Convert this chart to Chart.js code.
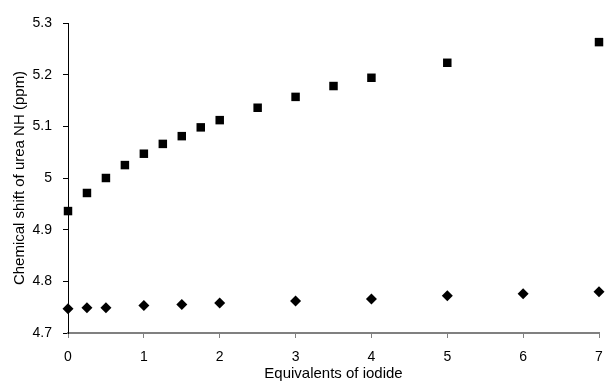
<!DOCTYPE html>
<html>
<head>
<meta charset="utf-8">
<script src="https://cdn.jsdelivr.net/npm/chart.js@4"></script>
<style>
  html, body { margin: 0; padding: 0; background: #fff; }
  #wrap { width: 605px; height: 383px; position: relative; }
</style>
</head>
<body>
<div id="wrap"><canvas id="shiftChart"></canvas></div>
<script>
// Equivalents of iodide added
const equivSquares = [0, 0.25, 0.5, 0.75, 1, 1.25, 1.5, 1.75, 2, 2.5, 3, 3.5, 4, 5, 7];
const shiftSquares = [4.936, 4.971, 5.000, 5.025, 5.047, 5.066, 5.081, 5.098, 5.112, 5.136, 5.157, 5.178, 5.194, 5.223, 5.263];

const equivDiamonds = [0, 0.25, 0.5, 1, 1.5, 2, 3, 4, 5, 6, 7];
const shiftDiamonds = [4.747, 4.749, 4.749, 4.753, 4.755, 4.758, 4.762, 4.766, 4.772, 4.776, 4.780];

const xTicks = [0, 1, 2, 3, 4, 5, 6, 7];
const yTicks = [4.7, 4.8, 4.9, 5, 5.1, 5.2, 5.3];

const toPoints = (xs, ys) => xs.map((x, i) => ({ x: x, y: ys[i] }));

const tickFont = { family: 'Liberation Sans, Arial, sans-serif', size: 14 };
const titleFont = { family: 'Liberation Sans, Arial, sans-serif', size: 15 };

const ctx = document.getElementById('shiftChart').getContext('2d');
const shiftChart = new Chart(ctx, {
    type: 'scatter',
    data: {
        datasets: [{
            data: toPoints(equivSquares, shiftSquares),
            pointStyle: 'rect',
            pointRadius: 6,
            backgroundColor: '#000',
            borderColor: '#000',
            borderWidth: 0,
            clip: false
        }, {
            data: toPoints(equivDiamonds, shiftDiamonds),
            pointStyle: 'rectRot',
            pointRadius: 5.5,
            backgroundColor: '#000',
            borderColor: '#000',
            borderWidth: 0,
            clip: false
        }]
    },
    options: {
        responsive: true,
        maintainAspectRatio: false,
        animation: false,
        layout: { padding: { top: 23, right: 5, left: 0, bottom: 0 } },
        plugins: { legend: { display: false }, tooltip: { enabled: false } },
        scales: {
            x: {
                type: 'linear',
                min: 0,
                max: 7,
                afterBuildTicks: axis => { axis.ticks = xTicks.map(v => ({ value: v })); },
                afterFit: axis => { axis.height = 50; axis.paddingLeft = 0; axis.paddingRight = 0; },
                border: { color: '#808080', width: 2 },
                grid: { drawOnChartArea: false, drawTicks: true, tickLength: 5, color: '#808080' },
                ticks: { color: '#000', font: tickFont, padding: 11, maxRotation: 0 },
                title: { display: true, text: 'Equivalents of iodide', color: '#000', font: titleFont, padding: { top: 0, bottom: 0 } }
            },
            y: {
                type: 'linear',
                min: 4.7,
                max: 5.3,
                afterBuildTicks: axis => { axis.ticks = yTicks.map(v => ({ value: v })); },
                afterFit: axis => { axis.width = 68; },
                border: { color: '#000', width: 1 },
                grid: { drawOnChartArea: false, drawTicks: true, tickLength: 5, color: '#000' },
                ticks: { color: '#000', font: tickFont, padding: 11, callback: v => String(Math.round(v * 10) / 10) },
                title: { display: true, text: 'Chemical shift of urea NH (ppm)', color: '#000', font: titleFont, padding: { top: 11, bottom: 0 } }
            }
        }
    }
});
</script>
</body>
</html>
